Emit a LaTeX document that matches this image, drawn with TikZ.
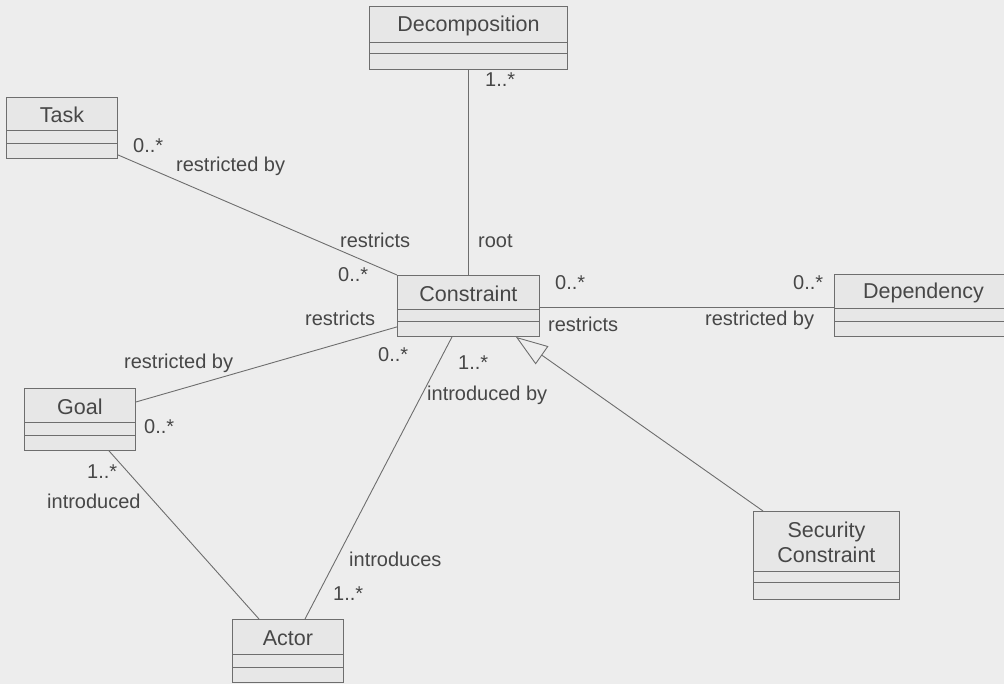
\documentclass[tikz,border=0pt]{standalone}
\usepackage{fontspec}
\setmainfont{Liberation Sans}
\usetikzlibrary{arrows.meta,calc}
\definecolor{paper}{HTML}{EDEDED}
\definecolor{boxfill}{HTML}{E7E7E7}
\definecolor{ink}{HTML}{474747}
\definecolor{wire}{HTML}{6E6E6E}

% UML class: name, left, top, width, height, 1st separator, 2nd separator, title
\newcommand\umlclass[8]{%
  \node[classbox, minimum width=#4pt, minimum height=#5pt] (#1) at (#2,#3) {};
  \draw[sepline] ($(#1.north west)+(0,#6)$) -- ($(#1.north east)+(0,#6)$)
                 ($(#1.north west)+(0,#7)$) -- ($(#1.north east)+(0,#7)$);
  \node[classname] (#1-name) at ($(#1.north)+(0,#6/2+1.5)$) {#8};
}

\begin{document}
\begin{tikzpicture}[x=1pt,y=-1pt,
  classbox/.style={draw=wire, fill=boxfill, line width=0.9pt, inner sep=0pt, anchor=north west},
  sepline/.style={draw=wire, line width=0.9pt},
  classname/.style={text=ink, font=\fontsize{21.5}{25}\selectfont, inner sep=0pt, align=center},
  assoc/.style={draw=wire, line width=0.9pt},
  lbl/.style={text=ink, font=\fontsize{20}{22}\selectfont, inner sep=0pt, anchor=base west},
]
\fill[paper] (0,0) rectangle (1004,684);
\useasboundingbox (0,0) rectangle (1004,684);

% classes
\umlclass{dec}{369}{6}{198}{63}{36}{47}{Decomposition}
\umlclass{task}{6}{97}{111}{61}{33}{46}{Task}
\umlclass{con}{397}{275}{142}{61}{34}{46}{Constraint}
\umlclass{dep}{834}{274}{178}{62}{34}{47}{Dependency}
\umlclass{goal}{24}{388}{111}{62}{34}{47}{Goal}
\umlclass{actor}{232}{619}{111}{63}{35}{48}{Actor}
\umlclass{sec}{753}{511}{146}{88}{60}{71}{Security\\Constraint}

% associations
\draw[assoc] (dec.south) -- (con.north);
\draw[assoc] ($(task.south east)+(0,-4)$) -- (con.north west);
\draw[assoc] ($(goal.north east)+(0,14)$) -- ($(con.south west)+(0,-10)$);
\draw[assoc] ($(goal.south west)+(85,0)$) -- ($(actor.north west)+(27,0)$);
\draw[assoc] ($(actor.north west)+(73,0)$) -- ($(con.south west)+(55,0)$);
\draw[assoc] ($(con.south east)+(0,-29)$) -- ($(dep.south west)+(0,-29)$);

% generalization
\draw[assoc, -{Triangle[open, length=32pt, width=22pt, fill=paper]}]
  ($(sec.north west)+(10,0)$) -- ($(con.south east)+(-24,0)$);

% role names and multiplicities
\node[lbl] (m-dec)   at (485,87)  {1..*};
\node[lbl] (m-task)  at (133,153) {0..*};
\node[lbl] (r-task)  at (176,172) {restricted by};
\node[lbl] (r-con1)  at (340,248) {restricts};
\node[lbl] (root)    at (478,248) {root};
\node[lbl] (m-con1)  at (338,282) {0..*};
\node[lbl] (r-con2)  at (305,326) {restricts};
\node[lbl] (m-con2)  at (555,290) {0..*};
\node[lbl] (r-con3)  at (548,332) {restricts};
\node[lbl] (m-dep)   at (793,290) {0..*};
\node[lbl] (r-dep)   at (705,326) {restricted by};
\node[lbl] (r-goal)  at (124,369) {restricted by};
\node[lbl] (m-con3)  at (378,362) {0..*};
\node[lbl] (m-con4)  at (458,370) {1..*};
\node[lbl] (i-con)   at (427,400) {introduced by};
\node[lbl] (m-goal1) at (144,433) {0..*};
\node[lbl] (m-goal2) at (87,478)  {1..*};
\node[lbl] (i-goal)  at (47,508)  {introduced};
\node[lbl] (i-actor) at (349,566) {introduces};
\node[lbl] (m-actor) at (333,600) {1..*};
\end{tikzpicture}
\end{document}
